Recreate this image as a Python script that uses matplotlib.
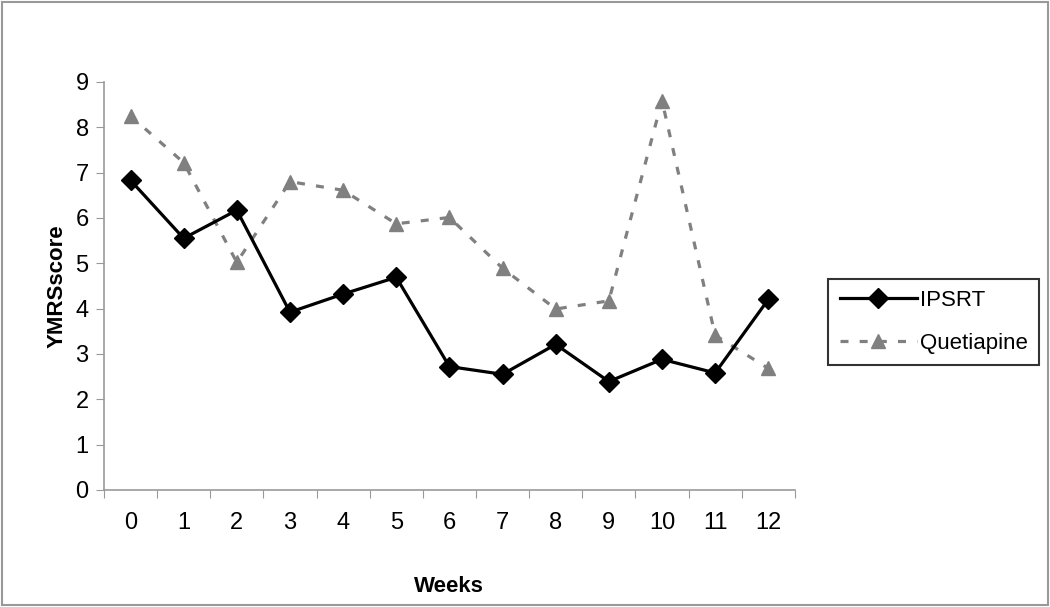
import matplotlib.pyplot as plt
from matplotlib.patches import Rectangle

# Data
weeks = list(range(13))
week_labels = [str(w) for w in weeks]
ipsrt = [6.83, 5.55, 6.17, 3.92, 4.32, 4.69, 2.72, 2.55, 3.21, 2.39, 2.88, 2.58, 4.20]
quetiapine = [8.25, 7.22, 5.02, 6.80, 6.61, 5.87, 6.01, 4.89, 3.99, 4.17, 8.59, 3.41, 2.68]

plt.rcParams['font.family'] = ['Liberation Sans', 'DejaVu Sans']

fig = plt.figure(figsize=(10.5, 6.07), dpi=100)
ax = fig.add_axes([0.099, 0.193, 0.658, 0.672])

ax.plot(weeks, ipsrt, color='black', lw=2.3, marker='D', ms=10,
        label='IPSRT', zorder=3)
ax.plot(weeks, quetiapine, color='#808080', lw=2.3, ls=(0, (2.5, 3.5)),
        marker='^', ms=10, label='Quetiapine', zorder=2)

ax.set_xlim(-0.5, 12.5)
ax.set_ylim(0, 9)
ax.set_yticks(range(10))

# ticks between categories, labels at the categories
ax.set_xticks([w - 0.5 for w in weeks] + [12.5])
ax.set_xticklabels([])
ax.set_xticks(weeks, minor=True)
ax.set_xticklabels(week_labels, minor=True)
ax.tick_params(axis='x', which='major', length=6, color='#999999', direction='out')
ax.tick_params(axis='x', which='minor', length=0, pad=16, labelsize=17)
ax.tick_params(axis='y', length=6, color='#999999', pad=5, labelsize=17)

for s in ['top', 'right']:
    ax.spines[s].set_visible(False)
for s in ['left', 'bottom']:
    ax.spines[s].set_color('#999999')
    ax.spines[s].set_linewidth(1.2)

ax.set_xlabel('Weeks', fontsize=16, fontweight='bold', labelpad=30)
ax.set_ylabel('YMRSscore', fontsize=16, fontweight='bold', labelpad=6)

leg = fig.legend(loc='upper left', bbox_to_anchor=(0.789, 0.541),
                 fontsize=16, frameon=True, fancybox=False, edgecolor='black',
                 handlelength=3.5, borderpad=0.5, labelspacing=1.0,
                 handletextpad=0.1, borderaxespad=0)
leg.get_frame().set_linewidth(1.5)

# thin gray border around the whole picture
fig.patches.append(Rectangle((0.002, 0.003), 0.996, 0.994, transform=fig.transFigure,
                             fill=False, edgecolor='#999999', lw=1.5))

fig.savefig('out.png', dpi=100)
